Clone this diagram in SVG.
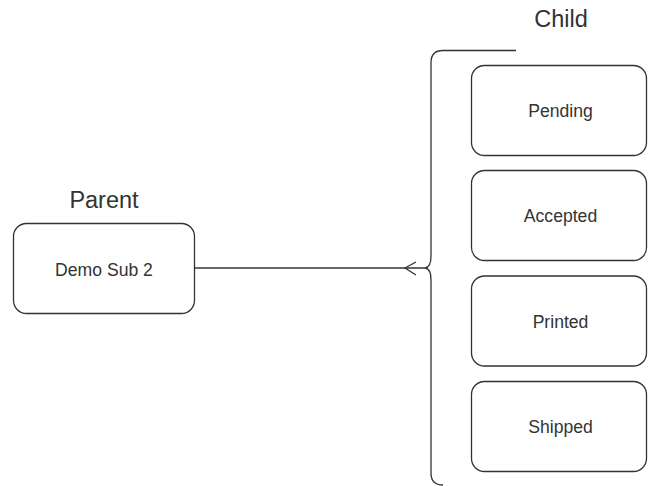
<svg xmlns="http://www.w3.org/2000/svg" width="648" height="486" viewBox="0 0 648 486">
<style>
.box{fill:#fff;stroke:#333;stroke-width:1.3}
.lbl{font-family:"Liberation Sans",Arial,sans-serif;font-size:17.6px;fill:#333;text-anchor:middle}
.title{font-family:"Liberation Sans",Arial,sans-serif;font-size:23.5px;fill:#333;text-anchor:middle}
.ln{fill:none;stroke:#333;stroke-width:1.3}
</style>
<rect width="648" height="486" fill="#fff"/>
<text class="title" x="104" y="208">Parent</text>
<text class="title" x="561" y="27">Child</text>
<g id="parent"><rect class="box" x="13.5" y="223.5" width="181" height="90" rx="13"/><text class="lbl" x="104" y="276">Demo Sub 2</text></g>
<g id="brace"><path class="ln" d="M516 50.5 H443 Q431 50.5 431 62.5 V256 Q431 267.5 425 268 Q431 268.5 431 280 V473 Q431 485 443 485"/></g>
<g id="pending"><rect class="box" x="471.5" y="65.5" width="175" height="90" rx="13"/><text class="lbl" x="560.5" y="117">Pending</text></g>
<g id="accepted"><rect class="box" x="471.5" y="170.5" width="175" height="90" rx="13"/><text class="lbl" x="560.5" y="222">Accepted</text></g>
<g id="printed"><rect class="box" x="471.5" y="276" width="175" height="90" rx="13"/><text class="lbl" x="560.5" y="327.5">Printed</text></g>
<g id="shipped"><rect class="box" x="471.5" y="381.5" width="175" height="90" rx="13"/><text class="lbl" x="560.5" y="433">Shipped</text></g>
<g id="connectors"><path class="ln" d="M194.5 268 H425"/><path class="ln" d="M416 262 L405 268 L416 275"/></g>
</svg>
